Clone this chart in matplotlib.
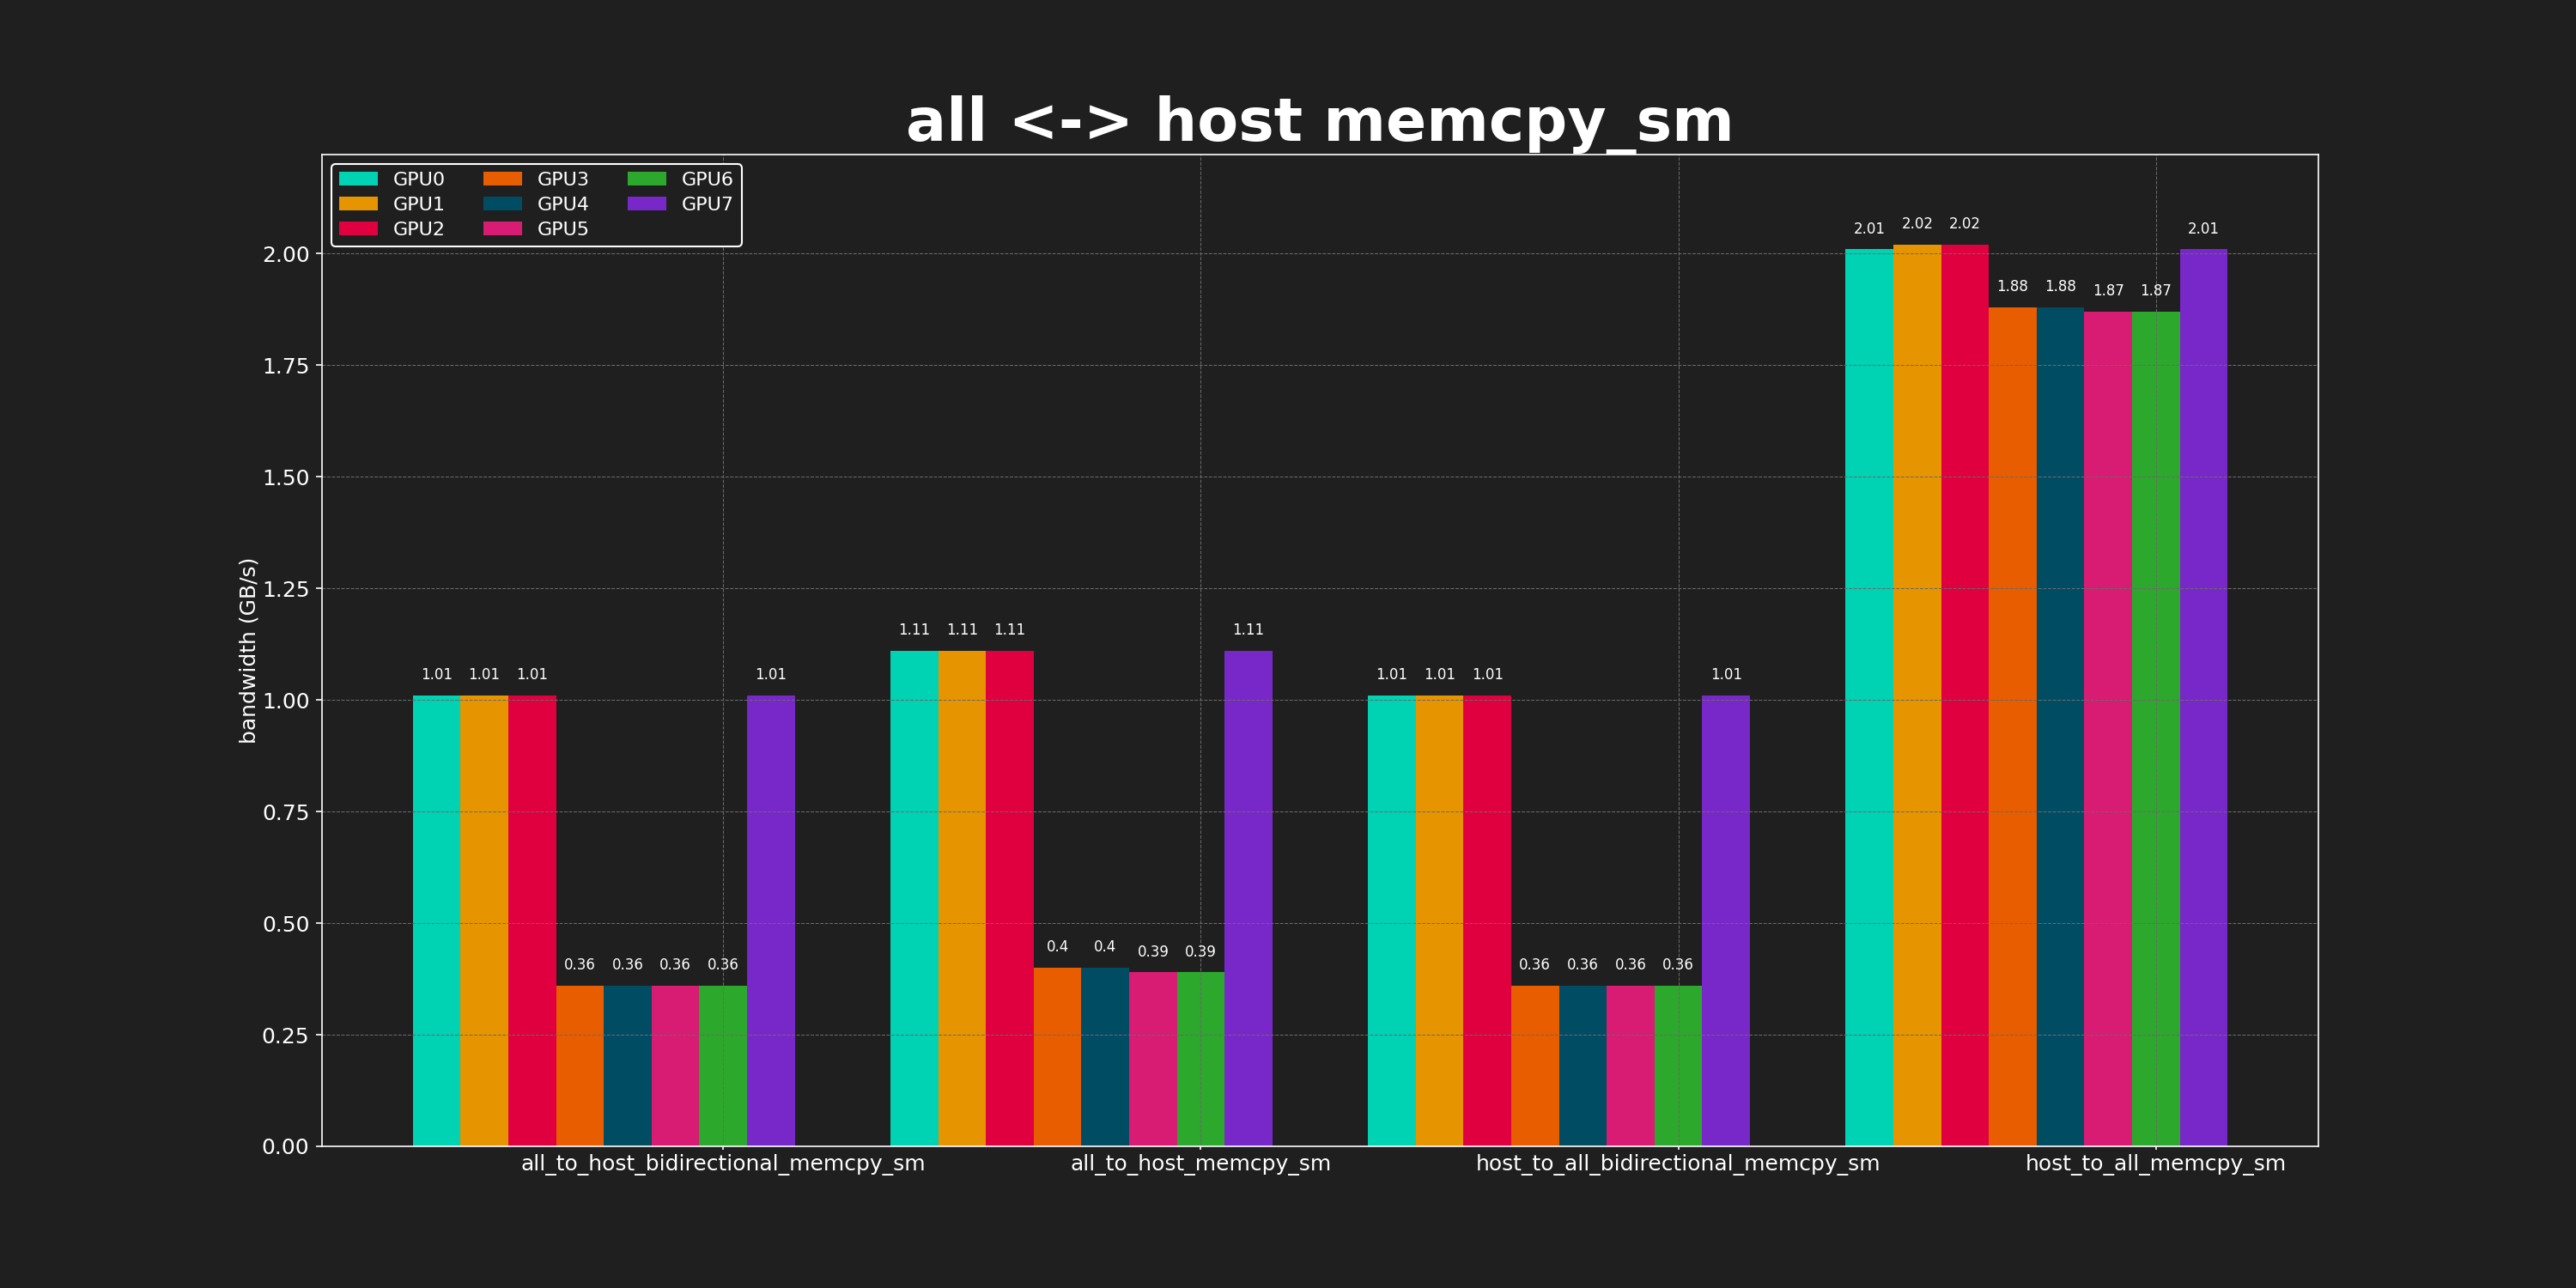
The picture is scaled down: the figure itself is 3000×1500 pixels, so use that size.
import numpy as np
import matplotlib
matplotlib.use("Agg")
import matplotlib.pyplot as plt

# benchmark names and per-GPU bandwidth (GB/s)
tests = ["all_to_host_bidirectional_memcpy_sm", "all_to_host_memcpy_sm",
         "host_to_all_bidirectional_memcpy_sm", "host_to_all_memcpy_sm"]
gpus = ["GPU0", "GPU1", "GPU2", "GPU3", "GPU4", "GPU5", "GPU6", "GPU7"]
bandwidth = {
    "GPU0": [1.01, 1.11, 1.01, 2.01],
    "GPU1": [1.01, 1.11, 1.01, 2.02],
    "GPU2": [1.01, 1.11, 1.01, 2.02],
    "GPU3": [0.36, 0.4, 0.36, 1.88],
    "GPU4": [0.36, 0.4, 0.36, 1.88],
    "GPU5": [0.36, 0.39, 0.36, 1.87],
    "GPU6": [0.36, 0.39, 0.36, 1.87],
    "GPU7": [1.01, 1.11, 1.01, 2.01],
}
colors = ["#00d2b4", "#e69500", "#e0003f", "#e85d00",
          "#004c63", "#d81b73", "#2ca82c", "#7828c8"]

bg = "#1f1f1f"
plt.rcParams.update({
    "figure.facecolor": bg,
    "axes.facecolor": bg,
    "axes.edgecolor": "white",
    "text.color": "white",
    "axes.labelcolor": "white",
    "xtick.color": "white",
    "ytick.color": "white",
})

fig, ax = plt.subplots(figsize=(20, 10), dpi=150)

x = np.arange(len(tests))
width = 0.1
for i, gpu in enumerate(gpus):
    bars = ax.bar(x + i * width, bandwidth[gpu], width, label=gpu,
                  color=colors[i])
    ax.bar_label(bars, labels=[str(v) for v in bandwidth[gpu]],
                 padding=7, fontsize=8, color="white")

ax.set_xticks(x + 6 * width)
ax.set_xticklabels(tests, fontsize=12)
ax.tick_params(axis="x", length=2, pad=2.5)
ax.tick_params(axis="y", labelsize=12)
ax.set_ylim(0, max(max(v) for v in bandwidth.values()) * 1.1)
ax.set_ylabel("bandwidth (GB/s)", fontsize=12, labelpad=1)
ax.set_title("all <-> host memcpy_sm", fontsize=33.5, fontweight="bold")
ax.grid(True, linestyle="--", linewidth=0.5, color="#6a6a6a")
leg = ax.legend(ncol=3, loc="upper left", fontsize=10.7, labelspacing=0.4,
                facecolor=bg, edgecolor="white", framealpha=1)

fig.savefig("out.png", facecolor=bg)
